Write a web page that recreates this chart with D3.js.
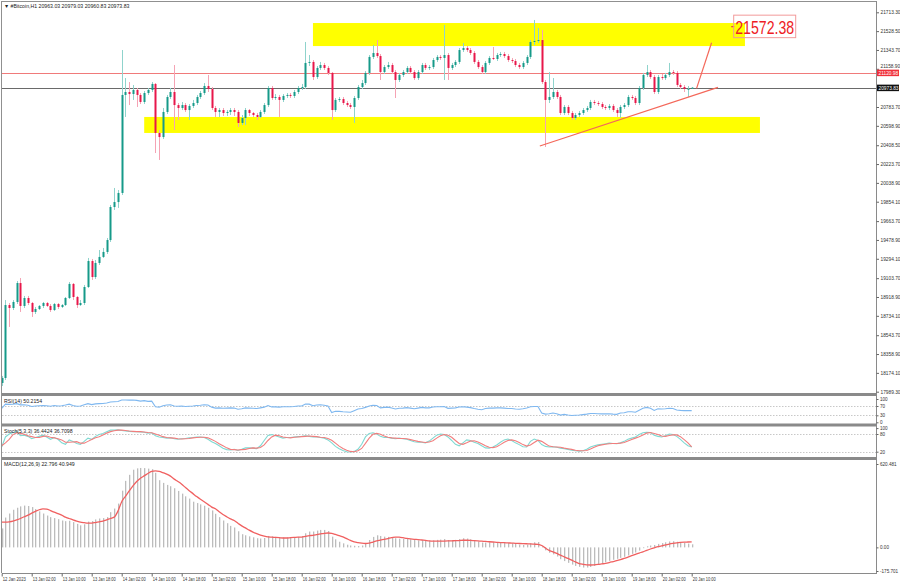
<!DOCTYPE html>
<html><head><meta charset="utf-8">
<script src="https://cdn.jsdelivr.net/npm/d3@7"></script>
<style>
body{margin:0;background:#fff}
svg{display:block}
text{font-family:"Liberation Sans",Arial,sans-serif}
</style>
</head><body>
<svg id="c" width="900" height="585"></svg>
<script>
// ---------- DATA ----------
const opens=[18075,18124,18840,18811,18870,19056,18831,18909,18860,18772,
18801,18831,18860,18831,18791,18850,18821,18840,18909,19047,
18919,18840,18860,19017,19272,19115,19253,19312,19361,19478,
19802,19851,19940,20902,20931,20911,20951,20902,20833,20921,
20951,21010,20529,20489,20735,20882,20931,20803,20774,20803,
20754,20794,20823,20882,20921,20990,20961,20774,20735,20754,
20725,20735,20754,20735,20627,20676,20754,20725,20705,20686,
20735,20803,20970,20872,20882,20853,20892,20902,20892,20931,
20970,20980,21216,21226,21078,21167,21196,21167,21118,20754,
20853,20862,20823,20803,20784,20872,20980,21019,21118,21275,
21314,21284,21127,21176,21196,21127,21049,21098,21127,21167,
21127,21068,21127,21196,21167,21176,21245,21275,21265,21294,
21167,21196,21226,21343,21363,21343,21314,21226,21176,21127,
21216,21265,21255,21294,21304,21284,21245,21235,21196,21176,
21216,21275,21422,21432,21441,21029,20853,20882,20931,20882,
20725,20784,20725,20676,20705,20725,20754,20774,20833,20823,
20813,20784,20774,20794,20754,20725,20784,20803,20882,20872,
20823,20970,21098,21127,21078,20931,21078,21068,21098,21127,
21118,21000,20980,20961,20963.03];
const highs=[18144,18889,18860,18889,19076,19105,18929,18929,18870,18821,
18840,18870,18870,18850,18860,18860,18850,18919,19066,19056,
18929,18889,19037,19302,19292,19282,19380,19400,19498,19822,
19989,19969,21343,21068,21029,21000,20970,20921,20941,20970,
21029,21019,20558,20774,20902,20970,21196,20823,20833,20823,
20813,20853,20902,20941,21019,21098,20980,20794,20774,20774,
20754,20774,20774,20754,20705,20774,20764,20735,20725,20754,
20823,20990,20990,20911,20902,20911,20921,20921,20951,20990,
21010,21422,21294,21245,21186,21226,21216,21186,21127,20872,
20882,20882,20843,20823,20892,21000,21049,21137,21294,21392,
21441,21304,21196,21226,21216,21147,21118,21147,21186,21186,
21147,21147,21216,21216,21196,21265,21294,21294,21589,21314,
21216,21245,21363,21412,21382,21363,21333,21245,21196,21235,
21284,21373,21314,21324,21324,21304,21265,21255,21216,21235,
21294,21441,21638,21559,21540,21049,21127,21068,20951,20902,
20803,20803,20745,20725,20745,20774,20794,20853,20853,20843,
20833,20803,20813,20813,20774,20803,20823,20902,20902,20892,
20990,21118,21196,21147,21098,21098,21108,21118,21216,21147,
21137,21019,21000,20990,20979.03];
const lows=[18045,18104,18625,18791,18850,18772,18811,18840,18723,18752,
18791,18811,18821,18772,18782,18801,18811,18831,18899,18889,
18811,18831,18840,19007,19086,19096,19233,19302,19341,19459,
19773,19793,19920,20686,20803,20853,20784,20813,20813,20902,
20931,20332,20264,20470,20715,20862,20558,20656,20754,20735,
20656,20774,20803,20862,20902,20931,20754,20686,20686,20696,
20696,20705,20696,20588,20607,20607,20696,20686,20656,20676,
20715,20784,20853,20853,20686,20833,20872,20872,20872,20911,
20951,20961,21186,21049,21059,21147,21147,21098,20656,20735,
20833,20803,20784,20764,20627,20853,20961,21000,21098,21255,
21265,21049,21108,21157,21108,20872,21029,21078,21108,21108,
21049,21049,21108,21147,21147,21157,21226,21245,21049,21049,
21147,21176,21206,21324,21324,21294,21206,21157,21108,21108,
21196,21245,21235,21275,21265,21226,21216,21176,21157,21157,
21196,21255,21392,21412,21010,20391,20823,20862,20862,20705,
20705,20705,20656,20656,20686,20705,20735,20754,20803,20794,
20764,20754,20754,20735,20686,20676,20764,20784,20853,20803,
20803,20951,21078,21059,20911,20911,21049,21049,21078,21098,
20980,20961,20931,20882,20960.83];
const closes=[18124,18840,18811,18870,19056,18831,18909,18860,18772,18801,
18831,18860,18831,18791,18850,18821,18840,18909,19047,18919,
18840,18860,19017,19272,19115,19253,19312,19361,19478,19802,
19851,19940,20902,20931,20911,20951,20902,20833,20921,20951,
21010,20529,20489,20735,20882,20931,20803,20774,20803,20754,
20794,20823,20882,20921,20990,20961,20774,20735,20754,20725,
20735,20754,20735,20627,20676,20754,20725,20705,20686,20735,
20803,20970,20872,20882,20853,20892,20902,20892,20931,20970,
20980,21216,21226,21078,21167,21196,21167,21118,20754,20853,
20862,20823,20803,20784,20872,20980,21019,21118,21275,21314,
21284,21127,21176,21196,21127,21049,21098,21127,21167,21127,
21068,21127,21196,21167,21176,21245,21275,21265,21294,21167,
21196,21226,21343,21363,21343,21314,21226,21176,21127,21216,
21265,21255,21294,21304,21284,21245,21235,21196,21176,21216,
21275,21422,21432,21441,21029,20853,20882,20931,20882,20725,
20784,20725,20676,20705,20725,20754,20774,20833,20823,20813,
20784,20774,20794,20754,20725,20784,20803,20882,20872,20823,
20970,21098,21127,21078,20931,21078,21068,21098,21127,21118,
21000,20980,20961,20963.03,20973.83];

const rsiValues=[60,78,77,78,80,75,75,73,68,70,
71,72,71,69,72,70,71,74,78,72,
69,70,75,80,76,79,80,81,83,87,
88,89,96,96,95,96,94,91,93,90,
91,67,65,71,74,75,70,69,70,68,
69,70,72,73,75,74,65,61,62,60,
61,62,61,56,58,62,61,60,59,62,
65,72,66,66,65,67,67,67,68,70,
70,78,78,71,74,75,73,70,42,47,
47,45,44,43,50,57,59,64,70,73,
72,62,64,65,61,57,60,61,63,61,
58,61,64,62,62,66,67,67,68,60,
61,62,66,67,65,63,59,56,54,59,
61,61,62,62,61,59,59,57,56,58,
61,67,68,68,40,35,37,40,37,31,
34,31,29,30,31,33,35,38,38,37,
36,36,37,35,34,40,41,45,45,43,
52,60,64,60,51,58,57,58,60,59,
53,51,50,50,50.2154];

const stochMain=[36,70,80,85,88,74,76,72,64,68,
72,76,70,62,68,62,50,45,60,55,
48,45,55,66,62,72,78,82,88,93,
93,94,92,90,89,88,88,87,86,83,
84,74,70,68,66,67,64,62,64,65,
67,68,70,70,68,62,54,48,40,32,
27,26,28,24,28,33,33,32,30,40,
58,75,78,74,70,66,68,68,70,71,
72,74,72,70,70,68,66,60,50,38,
30,24,20,19,21,28,45,70,82,84,
80,72,68,68,66,64,66,64,62,58,
54,52,52,50,56,66,76,80,78,70,
58,45,40,50,60,58,52,48,40,33,
32,36,43,52,60,63,58,50,44,37,
36,55,63,58,44,38,36,37,35,32,
30,28,25,23,22,23,28,36,40,43,
45,47,49,48,47,50,55,62,66,70,
78,84,86,85,76,72,70,74,80,78,
72,62,50,40,36.4424];
const stochSignal=[40,50,62,78,84,82,79,74,71,68,
68,72,73,69,67,64,60,52,52,53,
54,49,49,55,61,67,71,77,83,88,
91,93,93,92,90,89,88,88,87,85,
84,80,76,71,68,67,66,64,63,64,
65,67,68,69,69,67,61,55,47,40,
33,28,27,26,27,28,31,33,32,34,
43,58,70,76,74,70,68,67,69,70,
71,72,73,72,71,69,68,65,59,49,
39,31,25,21,20,23,31,48,66,79,
82,79,73,69,67,66,65,65,64,61,
58,55,53,51,53,57,66,74,78,76,
69,58,48,45,50,56,57,53,47,40,
35,34,37,44,52,58,60,57,51,44,
39,43,51,59,55,47,39,37,36,35,
32,30,28,25,23,23,24,29,35,40,
43,45,47,48,48,49,51,56,61,66,
71,77,83,85,82,78,73,72,75,77,
77,71,61,50,36.7098];

const macdHist=[141,222,252,280,295,305,311,308,300,285,
268,252,237,225,218,210,200,195,198,188,
175,164,172,192,196,208,215,218,225,262,
289,326,422,495,540,578,588,591,590,586,
582,555,500,480,465,455,440,420,400,380,
363,340,330,320,310,295,275,250,225,200,
180,160,148,120,98,90,82,75,68,66,
70,85,82,78,74,74,74,75,76,78,
85,105,118,118,125,130,130,122,80,60,
42,30,20,14,12,10,14,30,55,78,
90,85,80,78,76,68,65,63,62,60,
55,52,54,52,50,52,56,58,62,55,
54,56,62,68,66,60,52,44,36,36,
38,38,38,38,36,32,30,25,20,18,
20,30,38,40,8,-22,-40,-52,-68,-88,
-102,-115,-128,-138,-145,-150,-150,-146,-138,-128,
-118,-110,-100,-92,-85,-78,-70,-60,-48,-38,
-24,-6,8,14,18,26,32,38,44,46,
42,38,34,28,22.796];
const macdSignal=[188,188,190,195,204,215,228,240,255,268,
280,287,285,274,262,252,240,225,215,205,
196,188,184,181,181,185,190,196,205,215,
225,270,340,380,420,458,490,515,532,550,
565,570,566,556,545,530,508,490,470,445,
422,400,378,358,340,320,300,287,265,245,
228,212,200,180,160,145,128,114,102,92,
84,78,76,74,72,70,70,72,74,76,
77,82,87,90,95,100,105,107,104,96,
88,78,65,52,41,35,31,29,32,40,
48,54,60,66,72,77,76,72,67,63,
60,58,55,52,49,47,46,46,47,48,
49,50,51,53,53,52,50,48,46,44,
42,40,38,36,35,33,32,30,29,28,
27,26,24,22,14,-5,-22,-33,-45,-58,
-70,-82,-95,-108,-120,-126,-130,-131,-130,-127,
-123,-119,-113,-106,-99,-91,-82,-72,-62,-52,
-42,-33,-22,-12,-3,5,12,18,25,30,
34,37,39,40,40.949];

const priceTicks=[21713.30,21528.50,21343.70,21158.90,20783.70,20598.90,20408.50,20223.70,20038.90,19854.10,19663.70,19478.90,19294.10,19103.70,18918.90,18734.10,18543.70,18358.90,18174.10,17989.30];
const timeLabels=["12 Jan 2023","13 Jan 02:00","13 Jan 10:00","13 Jan 18:00","14 Jan 02:00","14 Jan 10:00","14 Jan 18:00","15 Jan 02:00","15 Jan 10:00","15 Jan 18:00","16 Jan 02:00","16 Jan 10:00","16 Jan 18:00","17 Jan 02:00","17 Jan 10:00","17 Jan 18:00","18 Jan 02:00","18 Jan 10:00","18 Jan 18:00","19 Jan 02:00","19 Jan 10:00","19 Jan 18:00","20 Jan 02:00","20 Jan 10:00"];
const timeLabelBars=[0,8,16,24,32,40,48,56,64,72,80,88,96,104,112,120,128,136,144,152,160,168,176,184];

const redLevel=21120.98, currentPrice=20973.83, targetPrice=21572.38;
const upperZoneBars=[83,198.2], upperZonePrices=[21382,21608];
const lowerZoneBars=[38,202.2], lowerZonePrices=[20529,20686];
const trendBars=[143.5,191], trendPrices=[20401,20977];
const projBars=[185.3,189.3], projPrices=[20967,21415];
const targetBar=195.6;
const rsiLevels=[70,30], stochLevels=[80,20];
const rsiAxis=[100,70,30,0], stochAxis=[100,80,20];
const macdAxis=[620.481,0,-175.701];

// ---------- LAYOUT ----------
const svg=d3.select("#c");
const L=2, R=876;
const FONT="Liberation Sans, Arial, sans-serif";
const x=d3.scaleLinear().domain([0,184]).range([1.7,691.7]);
const y=d3.scaleLinear().domain([17989.3,21713.3]).range([391.7,12.3]);
const yR=d3.scaleLinear().domain([0,100]).range([422.3,399]);
const yS=d3.scaleLinear().domain([0,100]).range([457.6,428.1]);
const yM=d3.scaleLinear().domain([-175.701,620.481]).range([571,464]);
const px=v=>Math.round(v)+0.5;

const defs=svg.append("defs");
function clip(id,y0,y1){defs.append("clipPath").attr("id",id).append("rect").attr("x",L).attr("y",y0).attr("width",R-L).attr("height",y1-y0);}
clip("cMain",2,393);clip("cRsi",396,423.5);clip("cSto",426.5,457);clip("cMacd",460,573);

svg.append("rect").attr("width",900).attr("height",585).attr("fill","#fff");

// main panel
const gm=svg.append("g").attr("clip-path","url(#cMain)");
gm.append("rect").attr("x",x(upperZoneBars[0])).attr("width",x(upperZoneBars[1])-x(upperZoneBars[0]))
  .attr("y",y(upperZonePrices[1])).attr("height",y(upperZonePrices[0])-y(upperZonePrices[1])).attr("fill","#ffff00");
gm.append("rect").attr("x",x(lowerZoneBars[0])).attr("width",x(lowerZoneBars[1])-x(lowerZoneBars[0]))
  .attr("y",y(lowerZonePrices[1])).attr("height",y(lowerZonePrices[0])-y(lowerZonePrices[1])).attr("fill","#ffff00");
gm.append("line").attr("x1",L).attr("x2",R).attr("y1",px(y(redLevel))).attr("y2",px(y(redLevel))).attr("stroke","#f07a7a").attr("stroke-width",1);
gm.append("line").attr("x1",L).attr("x2",R).attr("y1",px(y(currentPrice))).attr("y2",px(y(currentPrice))).attr("stroke","#6a6a6a").attr("stroke-width",1);

const idx=d3.range(closes.length);
const cg=gm.append("g");
cg.selectAll("line.w").data(idx).join("line").attr("class","w")
  .attr("x1",i=>px(x(i))).attr("x2",i=>px(x(i)))
  .attr("y1",i=>y(highs[i])).attr("y2",i=>y(lows[i]))
  .attr("stroke",i=>closes[i]>=opens[i]?"#8fd3cc":"#f5a3b4").attr("stroke-width",1);
cg.selectAll("rect.b").data(idx).join("rect").attr("class","b")
  .attr("x",i=>Math.round(x(i))-0.5).attr("width",2)
  .attr("y",i=>y(Math.max(opens[i],closes[i])))
  .attr("height",i=>Math.max(1,Math.abs(y(opens[i])-y(closes[i]))))
  .attr("fill",i=>closes[i]>=opens[i]?"#169a89":"#e8174a");

gm.append("line").attr("x1",x(trendBars[0])).attr("y1",y(trendPrices[0])).attr("x2",x(trendBars[1])).attr("y2",y(trendPrices[1]))
  .attr("stroke","#f4685a").attr("stroke-width",1.2);
gm.append("line").attr("x1",x(projBars[0])).attr("y1",y(projPrices[0])).attr("x2",x(projBars[1])).attr("y2",y(projPrices[1]))
  .attr("stroke","#f4685a").attr("stroke-width",1.2);

// target label
const tx=x(targetBar), ty=y(targetPrice);
gm.append("line").attr("x1",tx-4).attr("x2",tx-1).attr("y1",ty).attr("y2",ty).attr("stroke","#f04040").attr("stroke-width",1.2);
gm.append("rect").attr("x",tx-1.5).attr("y",ty-11.5).attr("width",62).attr("height",22.5).attr("fill","none").attr("stroke","#f29a9a").attr("stroke-width",1);
gm.append("text").attr("x",tx).attr("y",ty+7).attr("font-size",19).attr("fill","#ee1c25")
  .attr("textLength",59).attr("lengthAdjust","spacingAndGlyphs").text(targetPrice.toFixed(2));

// header
svg.append("text").attr("x",4).attr("y",7.5).attr("font-size",5.2).attr("fill","#222")
  .text("\u25BC #Bitcoin,H1  "+opens[184].toFixed(2)+" "+highs[184].toFixed(2)+" "+lows[184].toFixed(2)+" "+closes[184].toFixed(2));

// RSI panel
const gr=svg.append("g").attr("clip-path","url(#cRsi)");
rsiLevels.forEach(v=>gr.append("line").attr("x1",L).attr("x2",R).attr("y1",px(yR(v))).attr("y2",px(yR(v))).attr("stroke","#c8c8c8").attr("stroke-dasharray","1.5,1.5"));
gr.append("path").datum(idx).attr("fill","none").attr("stroke","#7fb8f0").attr("stroke-width",1.1)
  .attr("d",d3.line().x(i=>x(i)).y(i=>yR(rsiValues[i])));
svg.append("text").attr("x",4).attr("y",402.5).attr("font-size",5.2).attr("fill","#222").text("RSI(14) "+rsiValues[184].toFixed(4));

// Stoch panel
const gs=svg.append("g").attr("clip-path","url(#cSto)");
stochLevels.forEach(v=>gs.append("line").attr("x1",L).attr("x2",R).attr("y1",px(yS(v))).attr("y2",px(yS(v))).attr("stroke","#c8c8c8").attr("stroke-dasharray","1.5,1.5"));
gs.append("path").datum(idx).attr("fill","none").attr("stroke","#7fd9d2").attr("stroke-width",1.1)
  .attr("d",d3.line().x(i=>x(i)).y(i=>yS(stochMain[i])));
gs.append("path").datum(idx).attr("fill","none").attr("stroke","#f27d7d").attr("stroke-width",1.1)
  .attr("d",d3.line().x(i=>x(i)).y(i=>yS(stochSignal[i])));
svg.append("text").attr("x",4).attr("y",433).attr("font-size",5.2).attr("fill","#222")
  .text("Stoch(5,3,3) "+stochMain[184].toFixed(4)+" "+stochSignal[184].toFixed(4));

// MACD panel
const gmc=svg.append("g").attr("clip-path","url(#cMacd)");
gmc.selectAll("rect").data(idx).join("rect")
  .attr("x",i=>Math.round(x(i))).attr("width",1.3)
  .attr("y",i=>Math.min(yM(0),yM(macdHist[i])))
  .attr("height",i=>Math.abs(yM(macdHist[i])-yM(0)))
  .attr("fill","#bcbcbc");
gmc.append("path").datum(idx).attr("fill","none").attr("stroke","#f06060").attr("stroke-width",1.3)
  .attr("d",d3.line().curve(d3.curveMonotoneX).x(i=>x(i)).y(i=>yM(macdSignal[i])));
svg.append("text").attr("x",4).attr("y",466).attr("font-size",5.2).attr("fill","#222")
  .text("MACD(12,26,9) "+macdHist[184].toFixed(3)+" "+macdSignal[184].toFixed(3));

// frames & separators
svg.append("line").attr("x1",L).attr("x2",R).attr("y1",1.5).attr("y2",1.5).attr("stroke","#909090");
svg.append("line").attr("x1",1.5).attr("x2",1.5).attr("y1",1).attr("y2",573).attr("stroke","#909090");
[[393,396],[423.5,426.5],[457,460]].forEach(s=>svg.append("rect").attr("x",L).attr("y",s[0]).attr("width",R-L).attr("height",s[1]-s[0]).attr("fill","#8a8a8a"));
svg.append("line").attr("x1",R+0.5).attr("x2",R+0.5).attr("y1",1).attr("y2",573.5).attr("stroke","#8a8a8a");
svg.append("line").attr("x1",L).attr("x2",R+1).attr("y1",573.5).attr("y2",573.5).attr("stroke","#8a8a8a");

// price axis
const ax=svg.append("g").attr("transform",`translate(${R+0.5},0)`)
  .call(d3.axisRight(y).tickValues(priceTicks).tickSize(2.5).tickPadding(1.5).tickFormat(d=>d.toFixed(2)));
ax.select(".domain").remove();
ax.selectAll("text").attr("font-size",4.8).attr("font-family",FONT).attr("fill","#333")
  .attr("dy",d=>Math.abs(d-21158.90)<0.01?"-0.25em":"0.32em");
ax.selectAll("line").attr("stroke","#666");

function priceBox(v,bg){
  const yy=y(v);
  svg.append("rect").attr("x",R+1).attr("y",yy-3).attr("width",22).attr("height",6.5).attr("fill",bg);
  svg.append("text").attr("x",R+2.5).attr("y",yy+1.9).attr("font-size",4.8).attr("fill","#fff").text(v.toFixed(2));
}
priceBox(redLevel,"#f0303a");
priceBox(currentPrice,"#111");

// indicator axes
function sideAxis(scale,vals,fmt){
  const g=svg.append("g").attr("transform",`translate(${R+0.5},0)`)
    .call(d3.axisRight(scale).tickValues(vals).tickSize(2).tickPadding(1.5).tickFormat(fmt));
  g.select(".domain").remove();
  g.selectAll("text").attr("font-size",4.6).attr("font-family",FONT).attr("fill","#333");
  g.selectAll("line").attr("stroke","#666");
}
sideAxis(yR,rsiAxis,d=>d);
sideAxis(yS,stochAxis,d=>d);
sideAxis(yM,macdAxis,d=>d===0?"0.00":d.toFixed(3));

// time axis
const bx=svg.append("g").attr("transform","translate(0,573.5)")
  .call(d3.axisBottom(x).tickValues(timeLabelBars).tickSize(3).tickPadding(1).tickFormat((d,i)=>timeLabels[i]));
bx.select(".domain").remove();
bx.selectAll("text").attr("font-size",4.8).attr("text-anchor","start").attr("dx",0.6)
  .attr("textLength",23).attr("lengthAdjust","spacingAndGlyphs")
  .attr("font-family",FONT).attr("fill","#333");
bx.selectAll("line").attr("stroke","#666");
</script>
</body></html>
